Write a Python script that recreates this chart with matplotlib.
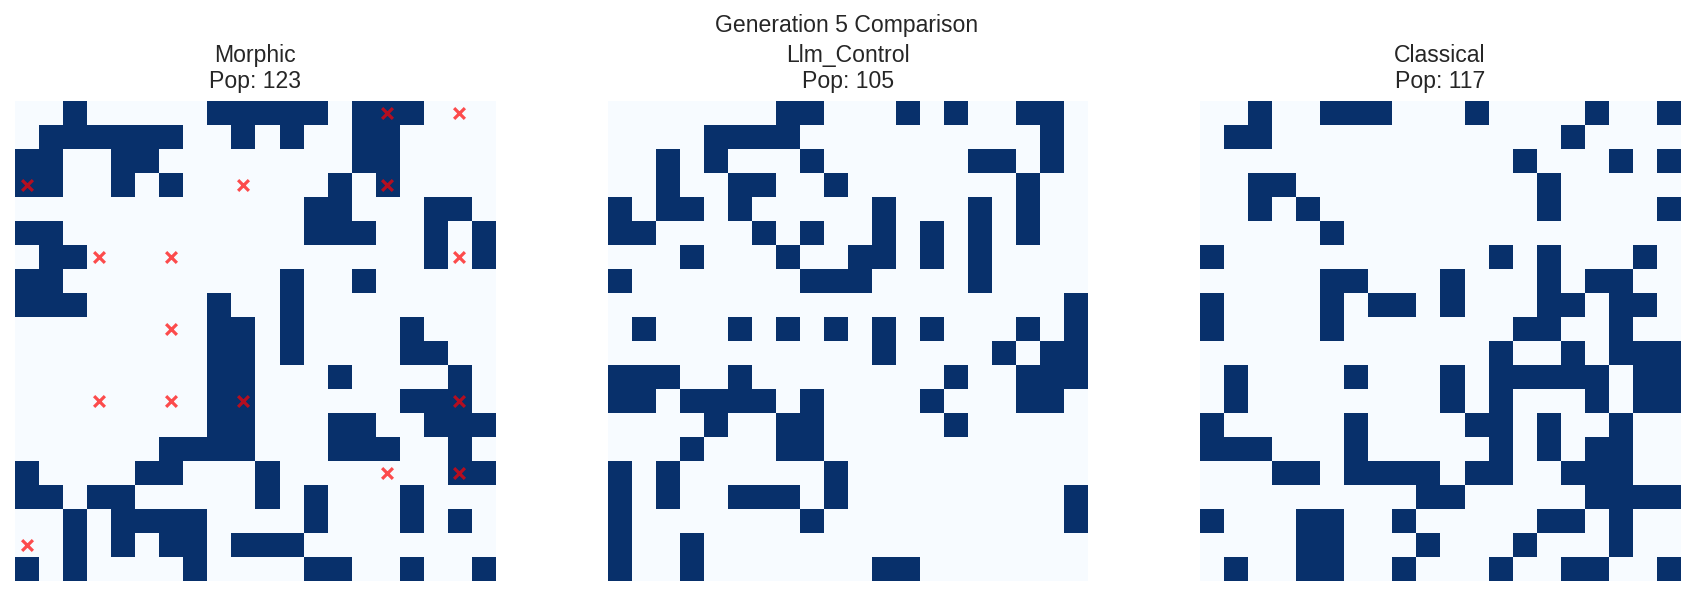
import numpy as np
import matplotlib
matplotlib.use("Agg")
import matplotlib.pyplot as plt

plt.rcParams["font.family"] = ["Liberation Sans", "DejaVu Sans"]

generation = 5
names = ["Morphic", "Llm_Control", "Classical"]

# 20x20 grids, one string per row ("1" = alive cell)
morphic_rows = [
    "00100000111110111000",
    "01111110010100110000",
    "11001100000000110000",
    "11001010000001010000",
    "00000000000011000110",
    "11000000000011100101",
    "01100000000000000101",
    "11000000000100100000",
    "11100000100100000000",
    "00000000110100001000",
    "00000000110100001100",
    "00000000110001000010",
    "00000000110000001110",
    "00000000110001100111",
    "00000011110001110010",
    "10000110001000000011",
    "11011000001010001000",
    "00101111000010001010",
    "00101011011100000000",
    "10100001000011001001",
]

llm_rows = [
    "00000001100010100110",
    "00001111000000000010",
    "00101000100000011010",
    "00100110010000000100",
    "10110100000100010100",
    "11000010100101010100",
    "00010001001101010000",
    "10000000111000010000",
    "00000000000000000001",
    "01000101010101000101",
    "00000000000100001011",
    "11100100000000100111",
    "11011110100001000110",
    "00001001100000100000",
    "00010001100000000000",
    "10100000010000000000",
    "10100111010000000001",
    "10000000100000000001",
    "10010000000000000000",
    "10010000000110000000",
]

classical_rows = [
    "00100111000100001001",
    "01100000000000010000",
    "00000000000001000101",
    "00110000000000100000",
    "00101000000000100001",
    "00000100000000000000",
    "10000000000010100010",
    "00000110001000101100",
    "10000101101000110110",
    "10000100000001100100",
    "00000000000010010111",
    "01000010001011111011",
    "01000000001010001011",
    "10000010000110100100",
    "11100010000010101100",
    "00011011110110011100",
    "00000000011000001111",
    "10001100100000110100",
    "00001100010001000100",
    "01001100100010011001",
]

# red x markers on the Morphic grid (row, col)
morphic_marks = [
    (0, 15), (0, 18), (3, 0), (3, 9), (3, 15), (6, 3), (6, 6), (6, 18),
    (9, 6), (12, 3), (12, 6), (12, 9), (12, 18), (15, 15), (15, 18), (18, 0),
]


def to_grid(rows):
    return np.array([[int(ch) for ch in r] for r in rows])


grids = [to_grid(morphic_rows), to_grid(llm_rows), to_grid(classical_rows)]
marks = [morphic_marks, [], []]

W, H = 1693, 595
fig = plt.figure(figsize=(W / 100, H / 100), dpi=100)
lefts = [15, 608, 1200]
size = 480
bottom = H - 581

for left, name, grid, mk in zip(lefts, names, grids, marks):
    ax = fig.add_axes([left / W, bottom / H, size / W, size / H])
    ax.imshow(grid, cmap="Blues", vmin=0, vmax=1, interpolation="nearest")
    if mk:
        ys = [m[0] for m in mk]
        xs = [m[1] for m in mk]
        ax.scatter(xs, ys, marker="x", c="red", s=60, linewidths=2.3, alpha=0.7)
    ax.set_xlim(-0.5, grid.shape[1] - 0.5)
    ax.set_ylim(grid.shape[0] - 0.5, -0.5)
    ax.set_title(f"{name}\nPop: {grid.sum()}", fontsize=16.6, color="#262626",
                 linespacing=1.2, pad=9)
    ax.axis("off")

fig.text(0.5, 1 - 31.7 / H, f"Generation {generation} Comparison",
         ha="center", va="baseline", fontsize=16.6, color="#262626")

fig.savefig("out.png", dpi=100)
